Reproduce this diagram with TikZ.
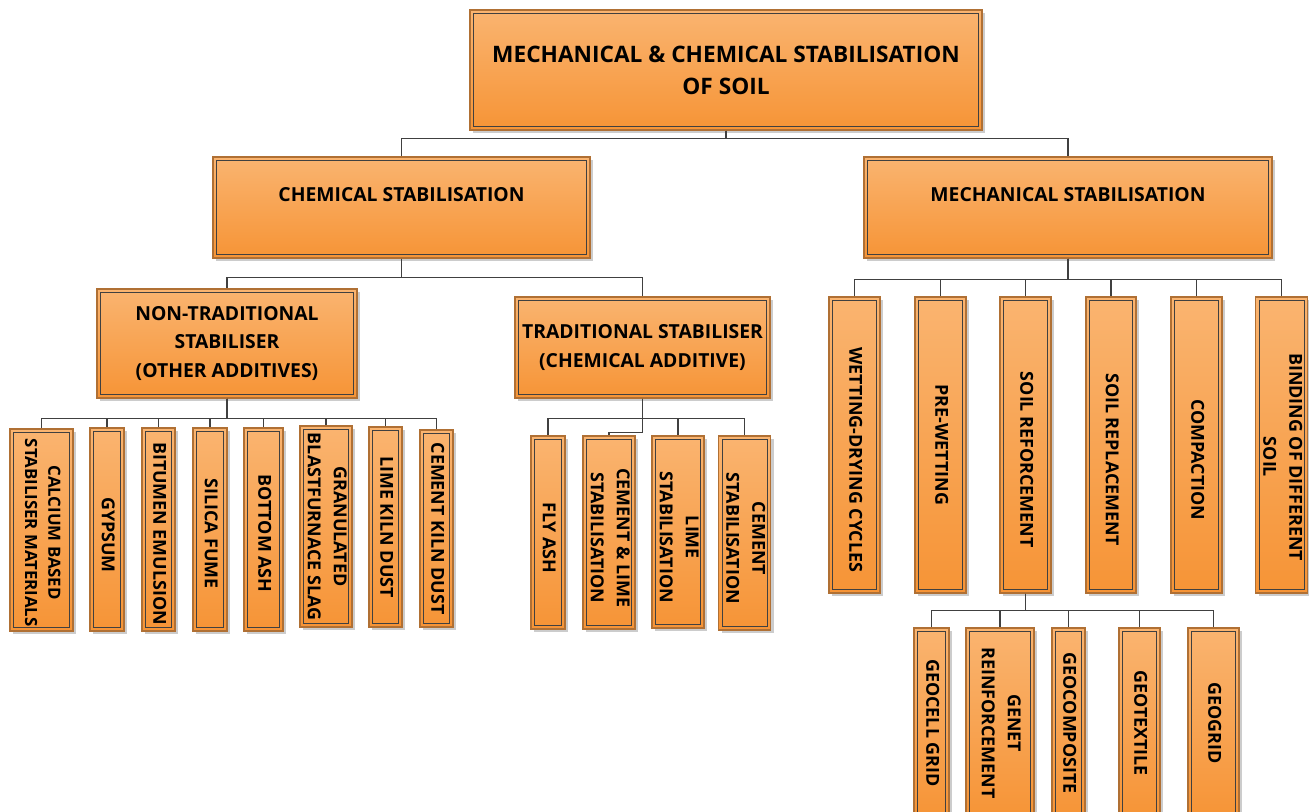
\documentclass[tikz,border=0pt]{standalone}
\usepackage{fontspec}
\setmainfont{Open Sans}
\usepackage{graphicx}
\usetikzlibrary{shadows}

\definecolor{boxtop}{RGB}{250,180,112}
\definecolor{boxbot}{RGB}{246,148,54}
\definecolor{boxedge}{RGB}{176,112,52}
\definecolor{boxline}{RGB}{64,64,64}
\definecolor{linkc}{RGB}{64,64,64}

% vertical text, optional push downwards
\newcommand{\vt}[2][0pt]{\rotatebox{-90}{\hspace*{#1}\begin{tabular}{@{}c@{}}#2\end{tabular}}}

\tikzset{
  sz/.style 2 args={minimum width=#1*0.75pt, minimum height=#2*0.75pt},
  box/.style={draw=boxedge, line width=1pt, top color=boxtop, bottom color=boxbot,
    drop shadow={shadow xshift=2.5pt, shadow yshift=-2.5pt, fill=black!40, opacity=0.5},
    inner sep=0pt, align=center, font=\bfseries\fontsize{14.5}{21.5}\selectfont,
    path picture={\draw[boxline, line width=0.7pt]
      ([shift={(2.6pt,2.6pt)}]path picture bounding box.south west) rectangle
      ([shift={(-2.6pt,-2.6pt)}]path picture bounding box.north east);}},
  leaf/.style={box, font=\bfseries\fontsize{13.4}{19.5}\selectfont},
  link/.style={draw=linkc, line width=1pt},
}

\begin{document}
\begin{tikzpicture}[x=0.75pt, y=-0.75pt]
  \useasboundingbox (0,0) rectangle (1309,811);
  \clip (0,0) rectangle (1309,811);

  % top
  \node[box, sz={512}{120}, font=\bfseries\fontsize{17}{24}\selectfont] (soil) at (726,70)
    {MECHANICAL \& CHEMICAL STABILISATION\\OF SOIL};

  % two kinds
  \node[box, sz={377}{101}, text depth=19pt] (chem) at (401.5,207.5) {CHEMICAL STABILISATION};
  \node[box, sz={408}{101}, text depth=19pt] (mech) at (1068,207.5) {MECHANICAL STABILISATION};

  % chemical: stabiliser groups
  \node[box, sz={260}{109}] (ntrad) at (227,343.5) {NON-TRADITIONAL\\STABILISER\\(OTHER ADDITIVES)};
  \node[box, sz={255}{101}] (trad) at (642.5,347.5) {TRADITIONAL STABILISER\\(CHEMICAL ADDITIVE)};

  % non-traditional stabilisers
  \node[leaf, sz={63}{202}, font=\bfseries\fontsize{12.6}{17.5}\selectfont] (calc) at (41.5,530)
    {\vt[4pt]{CALCIUM BASED\\STABILISER MATERIALS}};
  \node[leaf, sz={34}{203}] (gyp) at (107,529.5) {\vt[8pt]{GYPSUM}};
  \node[leaf, sz={33}{203}] (bit) at (158.5,529.5) {\vt[6pt]{BITUMEN EMULSION}};
  \node[leaf, sz={34}{203}] (sil) at (210,529.5) {\vt[6pt]{SILICA FUME}};
  \node[leaf, sz={39}{203}] (bot) at (263.5,529.5) {\vt[6pt]{BOTTOM ASH}};
  \node[leaf, sz={50}{201}] (gran) at (326,526.5) {\vt{GRANULATED\\BLASTFURNACE SLAG}};
  \node[leaf, sz={33}{200}] (lkd) at (385.5,527) {\vt{LIME KILN DUST}};
  \node[leaf, sz={33}{197}] (ckd) at (436.5,528.5) {\vt{CEMENT KILN DUST}};

  % traditional stabilisers
  \node[leaf, sz={34}{193}] (fly) at (548,532.5) {\vt[8pt]{FLY ASH}};
  \node[leaf, sz={52}{193}] (cl) at (609,532.5) {\vt[8pt]{CEMENT \& LIME\\STABILISATION}};
  \node[leaf, sz={52}{192}] (lime) at (678,532) {\vt[8pt]{LIME\\STABILISATION}};
  \node[leaf, sz={45}{194}] (cem) at (744.5,533) {\vt[8pt]{CEMENT\\STABILISATION}};

  % mechanical methods
  \node[leaf, sz={51}{296}] (wet) at (854.5,445) {\vt[22pt]{WETTING-DRYING CYCLES}};
  \node[leaf, sz={51}{296}] (pre) at (940.5,445) {\vt{PRE-WETTING}};
  \node[leaf, sz={51}{296}] (ref) at (1025.5,445) {\vt[22pt]{SOIL REFORCEMENT}};
  \node[leaf, sz={50}{296}] (rep) at (1111,445) {\vt[22pt]{SOIL REPLACEMENT}};
  \node[leaf, sz={51}{296}] (comp) at (1196.5,445) {\vt[22pt]{COMPACTION}};
  \node[leaf, sz={51}{296}] (bind) at (1281.5,445) {\vt[18pt]{BINDING OF DIFFERENT\\SOIL}};

  % reinforcement
  \node[leaf, sz={35}{190}] (gcell) at (931.5,723) {\vt{GEOCELL GRID}};
  \node[leaf, sz={68}{190}] (genet) at (1000,723) {\vt{GENET\\REINFORCEMENT}};
  \node[leaf, sz={33}{190}] (gcomp) at (1068.5,723) {\vt{GEOCOMPOSITE}};
  \node[leaf, sz={41}{190}] (gtex) at (1139.5,723) {\vt{GEOTEXTILE}};
  \node[leaf, sz={51}{190}] (ggrid) at (1213.5,723) {\vt{GEOGRID}};

  % connectors
  \foreach \kid in {chem,mech}
    \draw[link] (soil.south) -- ++(0,8) -| (\kid.north);
  \foreach \kid in {ntrad,trad}
    \draw[link] (chem.south) -- ++(0,19) -| (\kid.north);
  \foreach \kid in {calc,gyp,bit,sil,bot,gran,lkd,ckd}
    \draw[link] (ntrad.south) -- ++(0,20) -| (\kid.north);
  \foreach \kid in {fly,lime,cem}
    \draw[link] (trad.south) -- ++(0,20) -| (\kid.north);
  \draw[link] (trad.south) -- ++(0,34) -| (cl.north);
  \foreach \kid in {wet,pre,ref,rep,comp,bind}
    \draw[link] (mech.south) -- ++(0,21) -| (\kid.north);
  \foreach \kid in {gcell,genet,gcomp,gtex,ggrid}
    \draw[link] (ref.south) -- ++(0,17) -| (\kid.north);
\end{tikzpicture}
\end{document}
